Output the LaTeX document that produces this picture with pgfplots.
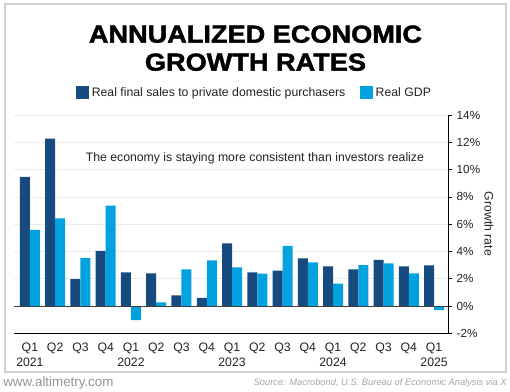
\documentclass[border=0pt]{standalone}
\usepackage{pgfplots}
\pgfplotsset{compat=1.18}
\usepackage{fontspec}
\setmainfont{Liberation Sans}
\newfontfamily\titlefont{Liberation Sans Bold}[FakeBold=1.6]
\definecolor{darkbar}{HTML}{174A7F}
\definecolor{lightbar}{HTML}{00A2DF}
\definecolor{gridc}{HTML}{EBEBEB}
\definecolor{framec}{HTML}{D0D0D0}
\definecolor{txt}{HTML}{222222}
\begin{document}
\begin{tikzpicture}
\path[use as bounding box] (0pt,0pt) rectangle (382.5pt,294pt);
\draw[framec, line width=1.5pt] (3.375pt,290.625pt) rectangle (379.125pt,14.625pt);
% title
\node[anchor=base, inner sep=0] at (191.6pt,262pt) {\titlefont\fontsize{18.5}{20}\selectfont\scalebox{1.1}[1]{ANNUALIZED ECONOMIC}};
\node[anchor=base, inner sep=0] at (191.6pt,241pt) {\titlefont\fontsize{18.5}{20}\selectfont\scalebox{1.1}[1]{GROWTH RATES}};
\begin{axis}[
  at={(10.5pt,44.0pt)}, anchor=south west,
  scale only axis, width=325.5pt, height=163.7pt,
  xmin=-0.63, xmax=16.55, ymin=-2, ymax=14,
  ybar=0pt, bar width=7.5pt,
  axis x line*=bottom, axis y line*=right,
  axis line style={-, black, line width=0.6pt},
  ytick={-2,0,2,4,6,8,10,12,14},
  yticklabel={\pgfmathprintnumber{\tick}\%},
  /pgf/number format/assume math mode=true,
  tick align=outside,
  major tick length=3pt,
  ytick style={black, line width=0.6pt},
  ymajorgrids, grid style={gridc, line width=0.6pt},
  yticklabel style={font=\fontsize{8.8}{10}\selectfont, text=txt},
  xtick={0,...,16},
  xticklabels={{Q1\\2021},Q2,Q3,Q4,{Q1\\2022},Q2,Q3,Q4,{Q1\\2023},Q2,Q3,Q4,{Q1\\2024},Q2,Q3,Q4,{Q1\\2025}},
  xticklabel style={align=center, font=\fontsize{9.2}{11.2}\selectfont, text=txt, anchor=north, yshift=-1pt},
  xtick style={draw=none},
  legend style={at={(0.555,1.102)}, anchor=center, draw=none, fill=none,
    legend columns=2, font=\fontsize{9.2}{11}\selectfont, text=txt,
    /tikz/every even column/.append style={column sep=9pt}},
  legend image code/.code={\fill[#1] (0pt,-4.9pt) rectangle (9.75pt,4.9pt);},
  clip=false,
]
\addplot[fill=darkbar, draw=none] coordinates {
(0,9.47) (1,12.28) (2,1.98) (3,4.05) (4,2.47) (5,2.39) (6,0.78) (7,0.59) (8,4.59)
(9,2.47) (10,2.59) (11,3.49) (12,2.91) (13,2.69) (14,3.39) (15,2.91) (16,2.98)};
\addlegendentry{Real final sales to private domestic purchasers}
\addplot[fill=lightbar, draw=none] coordinates {
(0,5.59) (1,6.42) (2,3.52) (3,7.37) (4,-1.03) (5,0.27) (6,2.69) (7,3.35) (8,2.83)
(9,2.37) (10,4.42) (11,3.20) (12,1.64) (13,3.00) (14,3.13) (15,2.39) (16,-0.29)};
\addlegendentry{Real GDP}
\draw[black!75, line width=0.8pt] (rel axis cs:0,0.125) -- (rel axis cs:1,0.125);
\node[font=\fontsize{9.2}{11}\selectfont, text=txt] at (rel axis cs:0.555,0.8016) {The economy is staying more consistent than investors realize};
\end{axis}
\node[rotate=-90, font=\fontsize{9.2}{11}\selectfont, text=txt] at (366.75pt,126pt) {Growth rate};
% footer
\node[anchor=west, inner sep=0, text=black!42, font=\fontsize{10}{12}\selectfont] at (2.25pt,6.75pt) {www.altimetry.com};
\node[anchor=east, inner sep=0, text=black!35, font=\fontsize{7}{9}\selectfont\itshape] at (380.25pt,6.75pt) {Source: Macrobond, U.S. Bureau of Economic Analysis via X};
\end{tikzpicture}
\end{document}
